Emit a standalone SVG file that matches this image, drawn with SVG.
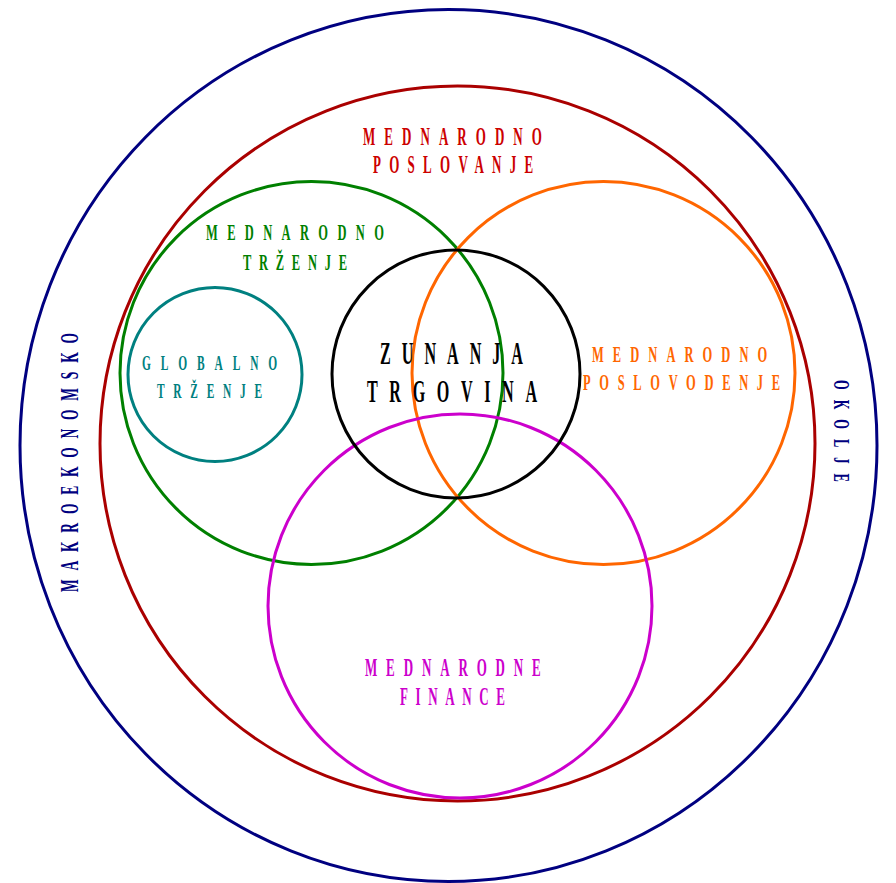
<svg xmlns="http://www.w3.org/2000/svg" width="896" height="883" viewBox="0 0 896 883">
<style>
.c{fill:none;stroke-width:3}
text{font-family:"Liberation Serif","Times New Roman",serif;font-weight:bold}
</style>
<rect width="896" height="883" fill="#fff"/>
<g id="makroekonomsko">
<ellipse class="c" cx="448.5" cy="445.5" rx="428.5" ry="436" stroke="#000080"/>
<text transform="translate(78,592) rotate(-90) scale(0.52,1)" font-size="26" fill="#000080" textLength="498" lengthAdjust="spacing">MAKROEKONOMSKO</text>
<text transform="translate(834,380) rotate(90) scale(0.52,1)" font-size="24" fill="#000080" textLength="196" lengthAdjust="spacing">OKOLJE</text>
</g>
<g id="poslovanje">
<circle class="c" cx="457.5" cy="443.5" r="357.5" stroke="#aa0000"/>
<text transform="translate(363,145) scale(0.52,1)" font-size="25" fill="#cc0000" textLength="344" lengthAdjust="spacing">MEDNARODNO</text>
<text transform="translate(373,173) scale(0.52,1)" font-size="25" fill="#cc0000" textLength="308" lengthAdjust="spacing">POSLOVANJE</text>
</g>
<g id="trzenje">
<circle class="c" cx="311.5" cy="373" r="191.5" stroke="#008000"/>
<text transform="translate(206,240) scale(0.52,1)" font-size="24" fill="#008000" textLength="342" lengthAdjust="spacing">MEDNARODNO</text>
<text transform="translate(243,270) scale(0.52,1)" font-size="24" fill="#008000" textLength="200" lengthAdjust="spacing">TRŽENJE</text>
</g>
<g id="poslovodenje">
<circle class="c" cx="603.5" cy="373" r="191.5" stroke="#ff6600"/>
<text transform="translate(592,362) scale(0.52,1)" font-size="24" fill="#ff6600" textLength="337" lengthAdjust="spacing">MEDNARODNO</text>
<text transform="translate(583,390) scale(0.52,1)" font-size="24" fill="#ff6600" textLength="379" lengthAdjust="spacing">POSLOVODENJE</text>
</g>
<g id="finance">
<circle class="c" cx="460" cy="606" r="192" stroke="#cc00cc"/>
<text transform="translate(365,676) scale(0.52,1)" font-size="25" fill="#cc00cc" textLength="338" lengthAdjust="spacing">MEDNARODNE</text>
<text transform="translate(400,705) scale(0.52,1)" font-size="25" fill="#cc00cc" textLength="202" lengthAdjust="spacing">FINANCE</text>
</g>
<g id="globalno">
<circle class="c" cx="215" cy="374.5" r="87" stroke="#008080"/>
<text transform="translate(142,370) scale(0.52,1)" font-size="22" fill="#008080" textLength="260" lengthAdjust="spacing">GLOBALNO</text>
<text transform="translate(157,398) scale(0.52,1)" font-size="22" fill="#008080" textLength="202" lengthAdjust="spacing">TRŽENJE</text>
</g>
<g id="zunanja">
<circle class="c" cx="456" cy="374" r="124" stroke="#000000"/>
<text transform="translate(380,364) scale(0.52,1)" font-size="31" fill="#000" textLength="275" lengthAdjust="spacing">ZUNANJA</text>
<text transform="translate(367,402) scale(0.52,1)" font-size="31" fill="#000" textLength="327" lengthAdjust="spacing">TRGOVINA</text>
</g>
</svg>
